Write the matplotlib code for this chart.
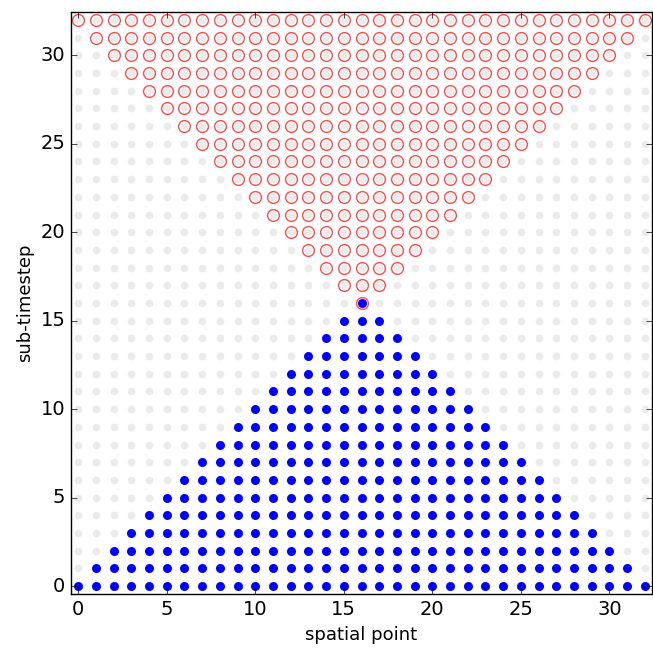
import numpy as np
import matplotlib
matplotlib.use("Agg")
import matplotlib.pyplot as plt

# grid size (spatial points x sub-timesteps)
n_space = 33
n_steps = 33

# blue (computed) points: for each sub-timestep, first and last spatial point
blue_steps = [0, 1, 2, 3, 4, 5, 6, 7, 8, 9, 10, 11, 12, 13, 14, 15, 16]
blue_lo = [0, 1, 2, 3, 4, 5, 6, 7, 8, 9, 10, 11, 12, 13, 14, 15, 16]
blue_hi = [32, 31, 30, 29, 28, 27, 26, 25, 24, 23, 22, 21, 20, 19, 18, 17, 16]

# red (open) points
red_steps = [16, 17, 18, 19, 20, 21, 22, 23, 24, 25, 26, 27, 28, 29, 30, 31, 32]
red_lo = [16, 15, 14, 13, 12, 11, 10, 9, 8, 7, 6, 5, 4, 3, 2, 1, 0]
red_hi = [16, 17, 18, 19, 20, 21, 22, 23, 24, 25, 26, 27, 28, 29, 30, 31, 32]

plt.style.use("classic")
fig = plt.figure(figsize=(6.53, 6.51), dpi=100, facecolor="white")
ax = fig.add_axes([71 / 653, 57 / 651, 581 / 653, 582 / 651])

# background grid
gx, gy = np.meshgrid(np.arange(n_space), np.arange(n_steps))
ax.plot(gx.ravel(), gy.ravel(), "o", color="#ebebeb", mec="none", ms=5.5)

rx, ry = [], []
for t, lo, hi in zip(red_steps, red_lo, red_hi):
    for i in range(lo, hi + 1):
        rx.append(i)
        ry.append(t)
ax.plot(rx, ry, "o", mfc="none", mec="red", mew=1.0, ms=8.5, alpha=0.7)

bx, by = [], []
for t, lo, hi in zip(blue_steps, blue_lo, blue_hi):
    for i in range(lo, hi + 1):
        bx.append(i)
        by.append(t)
ax.plot(bx, by, "o", color="blue", mec="none", ms=6.5)

ax.set_xlim(-0.4, 32.4)
ax.set_ylim(-0.45, 32.45)
ax.set_xticks([0, 5, 10, 15, 20, 25, 30])
ax.set_yticks([0, 5, 10, 15, 20, 25, 30])
ax.tick_params(labelsize=14)
ax.set_xlabel("spatial point", fontsize=13)
ax.set_ylabel("sub-timestep", fontsize=13)

fig.savefig("out.png", dpi=100, facecolor="white")
